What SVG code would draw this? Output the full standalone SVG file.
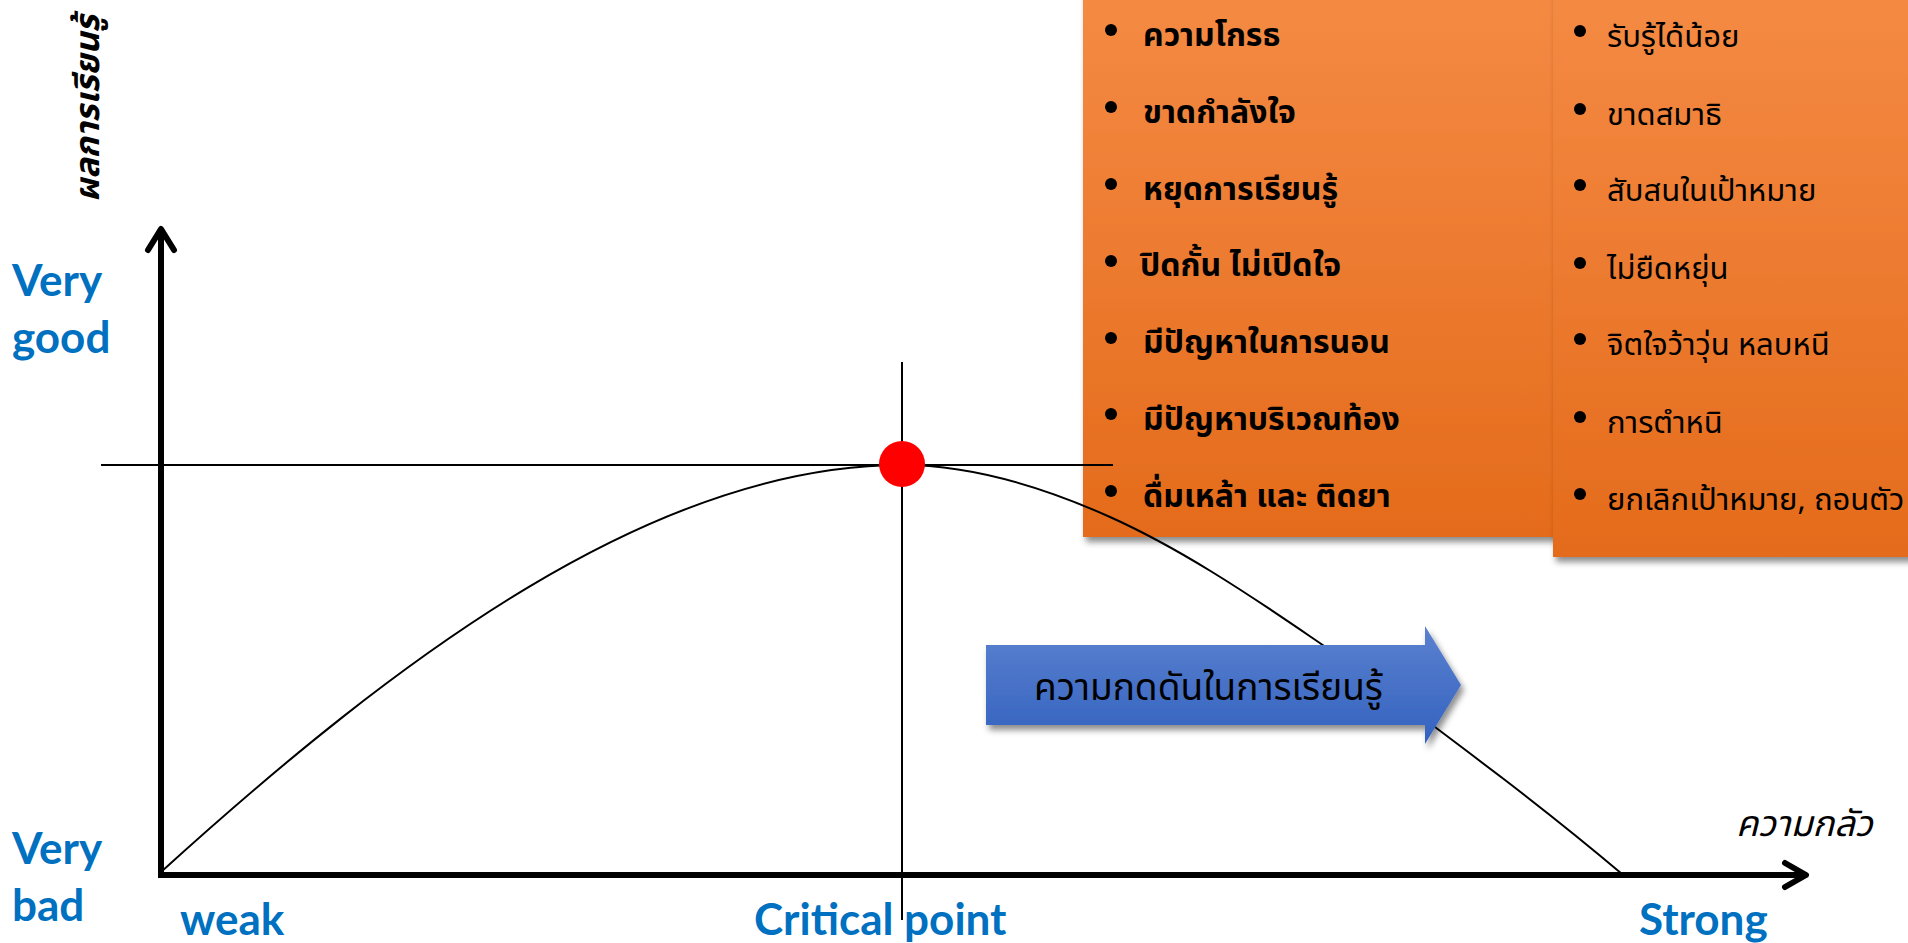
<svg xmlns="http://www.w3.org/2000/svg" width="1908" height="943" viewBox="0 0 1908 943">
<defs>
<style>
.lbl{font-family:"Lato","Open Sans","Liberation Sans",sans-serif;font-weight:bold;fill:#0070C0;font-size:44px}
.th{font-family:"Noto Sans Thai","Tahoma","Noto Sans","DejaVu Sans",sans-serif;fill:#000}
.b1{font-size:32px;font-weight:bold}
.b2{font-size:31px}
.axis{stroke:#000;stroke-width:6;fill:none}
.thin{stroke:#000;stroke-width:2;fill:none}
.bul{fill:#000}
</style>
<linearGradient id="og" x1="0" y1="0" x2="0" y2="1">
<stop offset="0" stop-color="#F58B45"/>
<stop offset="1" stop-color="#E46B1B"/>
</linearGradient>
<linearGradient id="bg" x1="0" y1="0" x2="0" y2="1">
<stop offset="0" stop-color="#5B81CF"/>
<stop offset="1" stop-color="#3362BF"/>
</linearGradient>
<filter id="sh" x="-10%" y="-10%" width="130%" height="130%">
<feDropShadow dx="3" dy="5" stdDeviation="3" flood-color="#000" flood-opacity="0.45"/>
</filter>
</defs>
<rect width="1908" height="943" fill="#fff"/>

<g id="box-left">
<rect x="1083" y="-20" width="500" height="557" fill="url(#og)" filter="url(#sh)"/>
<g class="bul">
<circle cx="1111" cy="30" r="6"/><circle cx="1111" cy="107" r="6"/><circle cx="1111" cy="184" r="6"/><circle cx="1111" cy="261" r="6"/><circle cx="1111" cy="338" r="6"/><circle cx="1111" cy="414" r="6"/><circle cx="1111" cy="491" r="6"/>
</g>
<text class="th b1" x="1143" y="46">ความโกรธ</text>
<text class="th b1" x="1143" y="123">ขาดกำลังใจ</text>
<text class="th b1" x="1143" y="200">หยุดการเรียนรู้</text>
<text class="th b1" x="1140" y="276">ปิดกั้น ไม่เปิดใจ</text>
<text class="th b1" x="1143" y="353">มีปัญหาในการนอน</text>
<text class="th b1" x="1143" y="430">มีปัญหาบริเวณท้อง</text>
<text class="th b1" x="1143" y="507">ดื่มเหล้า และ ติดยา</text>
</g>

<g id="box-right">
<rect x="1553" y="-20" width="380" height="577" fill="url(#og)" filter="url(#sh)"/>
<g class="bul">
<circle cx="1580" cy="31" r="6"/><circle cx="1580" cy="109" r="6"/><circle cx="1580" cy="185" r="6"/><circle cx="1580" cy="263" r="6"/><circle cx="1580" cy="339" r="6"/><circle cx="1580" cy="417" r="6"/><circle cx="1580" cy="494" r="6"/>
</g>
<text class="th b2" x="1607" y="47">รับรู้ได้น้อย</text>
<text class="th b2" x="1607" y="125">ขาดสมาธิ</text>
<text class="th b2" x="1607" y="201">สับสนในเป้าหมาย</text>
<text class="th b2" x="1607" y="279">ไม่ยืดหยุ่น</text>
<text class="th b2" x="1607" y="355">จิตใจว้าวุ่น  หลบหนี</text>
<text class="th b2" x="1607" y="433">การตำหนิ</text>
<text class="th b2" x="1607" y="510">ยกเลิกเป้าหมาย, ถอนตัว</text>
</g>

<g id="connectors">
<line class="thin" x1="101" y1="465" x2="1113" y2="465"/>
<line class="thin" x1="902" y1="362" x2="902" y2="920"/>
<path class="thin" d="M161,872 C400,655 655,465 902,465 C971,465 1041,486 1110,517 C1177,547 1244,591 1311,637 C1376,681 1440,731 1505,780 C1544,810 1583,841 1622,874"/>
<path class="axis" d="M161,877 V230 M1806,875 H158"/>
<path class="axis" stroke-linecap="round" stroke-linejoin="round" d="M148,250 L161,229 L174,250 M1785,863 L1806,875 L1785,887"/>
</g>

<g id="critical-point">
<circle cx="902" cy="464" r="23" fill="#FF0000"/>
</g>

<g id="pressure-arrow">
<path d="M986,645 H1425 V626 L1461,685 L1425,744 V725 H986 Z" fill="url(#bg)" filter="url(#sh)"/>
<text class="th" x="1034" y="700" font-size="37">ความกดดันในการเรียนรู้</text>
</g>

<g id="labels">
<text class="lbl" x="12" y="296">Very</text>
<text class="lbl" x="12" y="353">good</text>
<text class="lbl" x="12" y="864">Very</text>
<text class="lbl" x="12" y="921">bad</text>
<text class="lbl" x="180" y="935">weak</text>
<text class="lbl" x="754" y="935">Critical point</text>
<text class="lbl" x="1639" y="935">Strong</text>
<text class="th" x="1736" y="836" font-size="36" font-style="italic">ความกลัว</text>
<text class="th" transform="translate(99,202) rotate(-90)" font-size="34" font-style="italic" font-weight="bold">ผลการเรียนรู้</text>
</g>
</svg>
